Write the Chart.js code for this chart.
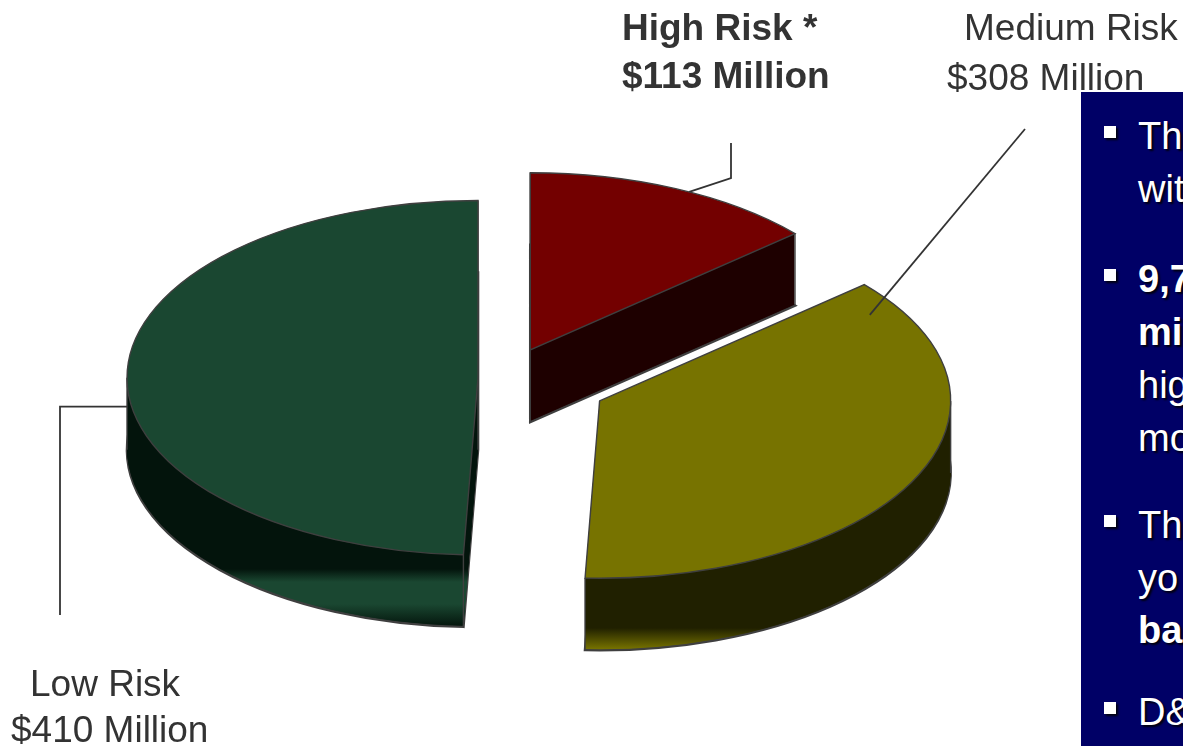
<!DOCTYPE html>
<html><head><meta charset="utf-8">
<script src="https://cdn.jsdelivr.net/npm/chart.js@4.4.1/dist/chart.umd.min.js"></script>
<style>
html,body{margin:0;padding:0;width:1183px;height:746px;overflow:hidden;background:#fff;}
#wrap{position:relative;width:1183px;height:746px;overflow:hidden;}
canvas{position:absolute;left:0;top:0;}
.lbl{position:absolute;white-space:nowrap;font-family:"Liberation Sans",Arial,sans-serif;color:#333;}
#panel{position:absolute;left:1081px;top:92px;width:200px;height:700px;background:#000066;}
.pl{position:absolute;white-space:nowrap;font-family:"Liberation Sans",Arial,sans-serif;color:#fff;text-shadow:2px 2px 2px rgba(0,0,0,.85);}
.bul{position:absolute;width:12px;height:12px;background:#fff;box-shadow:2px 2px 2px rgba(0,0,0,.85);}
</style></head><body>
<div id="wrap"><canvas id="c" width="1183" height="746"></canvas><div id="panel"></div></div>
<script>
// ---- data ----
const categories = ['High Risk *', 'Medium Risk', 'Low Risk'];
const amounts = [113, 308, 410];               // $ million
const amountLabels = ['$113 Million', '$308 Million', '$410 Million'];
const boldLabel = [true, false, false];
// visible (clipped) fragments of the side panel text: [text, bold, bullet]
const panelText = [['Th',0,1],['wit',0,0],['9,7',1,1],['mi',1,0],['hig',0,0],['mo',0,0],['Th',0,1],['yo',0,0],['ba',1,0],['D&',0,1]];

// ---- style ----
const TILT = 0.505, DEPTH = 72, CX = 505, CY = 378, RADIUS = 351;
const EXPLODE = [61, 105, 27];
const topColors = ['#730000', '#777300', '#1a4731'];
// wall shading: vertical gradient in screen space [y, colour]
const wallGrad = [
  [[0,'#1e0000'],[746,'#1e0000']],
  [[0,'#202000'],[628,'#202000'],[650,'#7a7600']],
  [[0,'#03140c'],[569,'#03140c'],[582,'#1a4731'],[604,'#1a4731'],[626,'#04160d']]
];
const EDGE = '#3f3f3f';
const LABEL_FS = 37, PANEL_FS = 38;
const labelPos = [ // per category: [left, baseline] for line1 and line2
  [[622,40],[622,88]],
  [[964,40],[947,90]],
  [[30,696],[11,742]]
];
const panelBase = [149,202,292,345,398,451,538,591,643,725];

function geom(chart){
  const meta=chart.getDatasetMeta(0);
  return meta.data.map((arc,i)=>{
    const p=arc.getProps(['x','y','startAngle','endAngle','outerRadius'],true);
    const mid=(p.startAngle+p.endAngle)/2;
    const ox=Math.cos(mid)*EXPLODE[i], oy=Math.sin(mid)*EXPLODE[i];
    return {arc,p,cx:CX+ox,cy:CY+TILT*oy};
  });
}
function toScreen(g,ang,rf,dy){
  return [g.cx+Math.cos(ang)*g.p.outerRadius*rf, g.cy+TILT*Math.sin(ang)*g.p.outerRadius*rf+(dy||0)];
}
function sectorPath(ctx,g,dy){
  ctx.save(); ctx.translate(g.cx,g.cy+dy); ctx.scale(1,TILT);
  ctx.beginPath(); ctx.moveTo(0,0); ctx.arc(0,0,g.p.outerRadius,g.p.startAngle,g.p.endAngle); ctx.closePath();
  ctx.restore();
}
const pie3d={
  id:'pie3d',
  beforeDatasetsDraw(chart){
    const ctx=chart.ctx, G=geom(chart);
    const fills=wallGrad.map(st=>{
      const gr=ctx.createLinearGradient(0,0,0,746);
      st.forEach(([y,c])=>gr.addColorStop(Math.min(1,y/746),c));
      return gr;
    });
    for(let i=DEPTH;i>=1;i--){
      G.forEach((g,k)=>{sectorPath(ctx,g,i); ctx.fillStyle=fills[k]; ctx.fill();
        if(i===DEPTH){ctx.strokeStyle=EDGE; ctx.lineWidth=2.6; ctx.stroke();}});
    }
    ctx.strokeStyle=EDGE; ctx.lineWidth=1.4;
    G.forEach(g=>{
      const angs=[g.p.startAngle,g.p.endAngle];
      [0,Math.PI,-Math.PI,2*Math.PI].forEach(a=>{if(a>g.p.startAngle&&a<g.p.endAngle)angs.push(a);});
      ctx.beginPath();
      angs.forEach(a=>{const [x,y]=toScreen(g,a,1,0); ctx.moveTo(x,y); ctx.lineTo(x,y+DEPTH);});
      const [x0,y0]=toScreen(g,0,0,0); ctx.moveTo(x0,y0); ctx.lineTo(x0,y0+DEPTH);
      ctx.stroke();
    });
    G.forEach(g=>{
      ctx.save(); ctx.translate(g.cx,g.cy); ctx.scale(1,TILT); ctx.translate(-g.p.x,-g.p.y);
      g.arc.draw(ctx); ctx.restore();
      sectorPath(ctx,g,0); ctx.strokeStyle=EDGE; ctx.lineWidth=1.4; ctx.stroke();
    });
    return false;
  },
  afterDraw(chart){
    const ctx=chart.ctx, G=geom(chart);
    ctx.save(); ctx.strokeStyle='#333'; ctx.lineWidth=1.8;
    // high
    let g=G[0], a=g.p.startAngle+0.55*(g.p.endAngle-g.p.startAngle);
    let [x,y]=toScreen(g,a,1,0);
    ctx.beginPath(); ctx.moveTo(x,y); ctx.lineTo(731,178); ctx.lineTo(731,143); ctx.stroke();
    // medium
    g=G[1]; a=g.p.startAngle+0.066*(g.p.endAngle-g.p.startAngle);
    [x,y]=toScreen(g,a,0.91,0);
    ctx.beginPath(); ctx.moveTo(x,y); ctx.lineTo(1025,129); ctx.stroke();
    // low
    g=G[2]; [x,y]=toScreen(g,Math.PI,1,29);
    ctx.beginPath(); ctx.moveTo(x,y); ctx.lineTo(60,y); ctx.lineTo(60,615); ctx.stroke();
    ctx.restore();
  }
};

new Chart(document.getElementById('c'),{
  type:'pie',
  data:{labels:categories,datasets:[{data:amounts,backgroundColor:topColors,borderWidth:0,hoverOffset:0}]},
  options:{responsive:false,animation:false,events:[],radius:RADIUS,
    plugins:{legend:{display:false},tooltip:{enabled:false}}},
  plugins:[pie3d]
});

// baseline offset for Liberation Sans with line-height = font-size
const baseOff=fs=>(fs-1.117*fs)/2+0.905*fs;
const wrap=document.getElementById('wrap');
categories.forEach((c,i)=>{
  [c,amountLabels[i]].forEach((t,j)=>{
    const d=document.createElement('div'); d.className='lbl'; d.textContent=t;
    d.style.fontSize=LABEL_FS+'px'; d.style.lineHeight=LABEL_FS+'px';
    d.style.left=labelPos[i][j][0]+'px'; d.style.top=(labelPos[i][j][1]-baseOff(LABEL_FS))+'px';
    if(boldLabel[i]) d.style.fontWeight='bold';
    wrap.appendChild(d);
  });
});
const panel=document.getElementById('panel');
panelText.forEach(([t,b,bul],i)=>{
  const base=panelBase[i]-92;
  const d=document.createElement('div'); d.className='pl'; d.textContent=t;
  d.style.fontSize=PANEL_FS+'px'; d.style.lineHeight=PANEL_FS+'px';
  d.style.left='57px'; d.style.top=(base-baseOff(PANEL_FS))+'px'; if(b) d.style.fontWeight='bold';
  panel.appendChild(d);
  if(bul){const s=document.createElement('div'); s.className='bul'; s.style.left='23px'; s.style.top=(base-23)+'px'; panel.appendChild(s);}
});
</script>
</body></html>
